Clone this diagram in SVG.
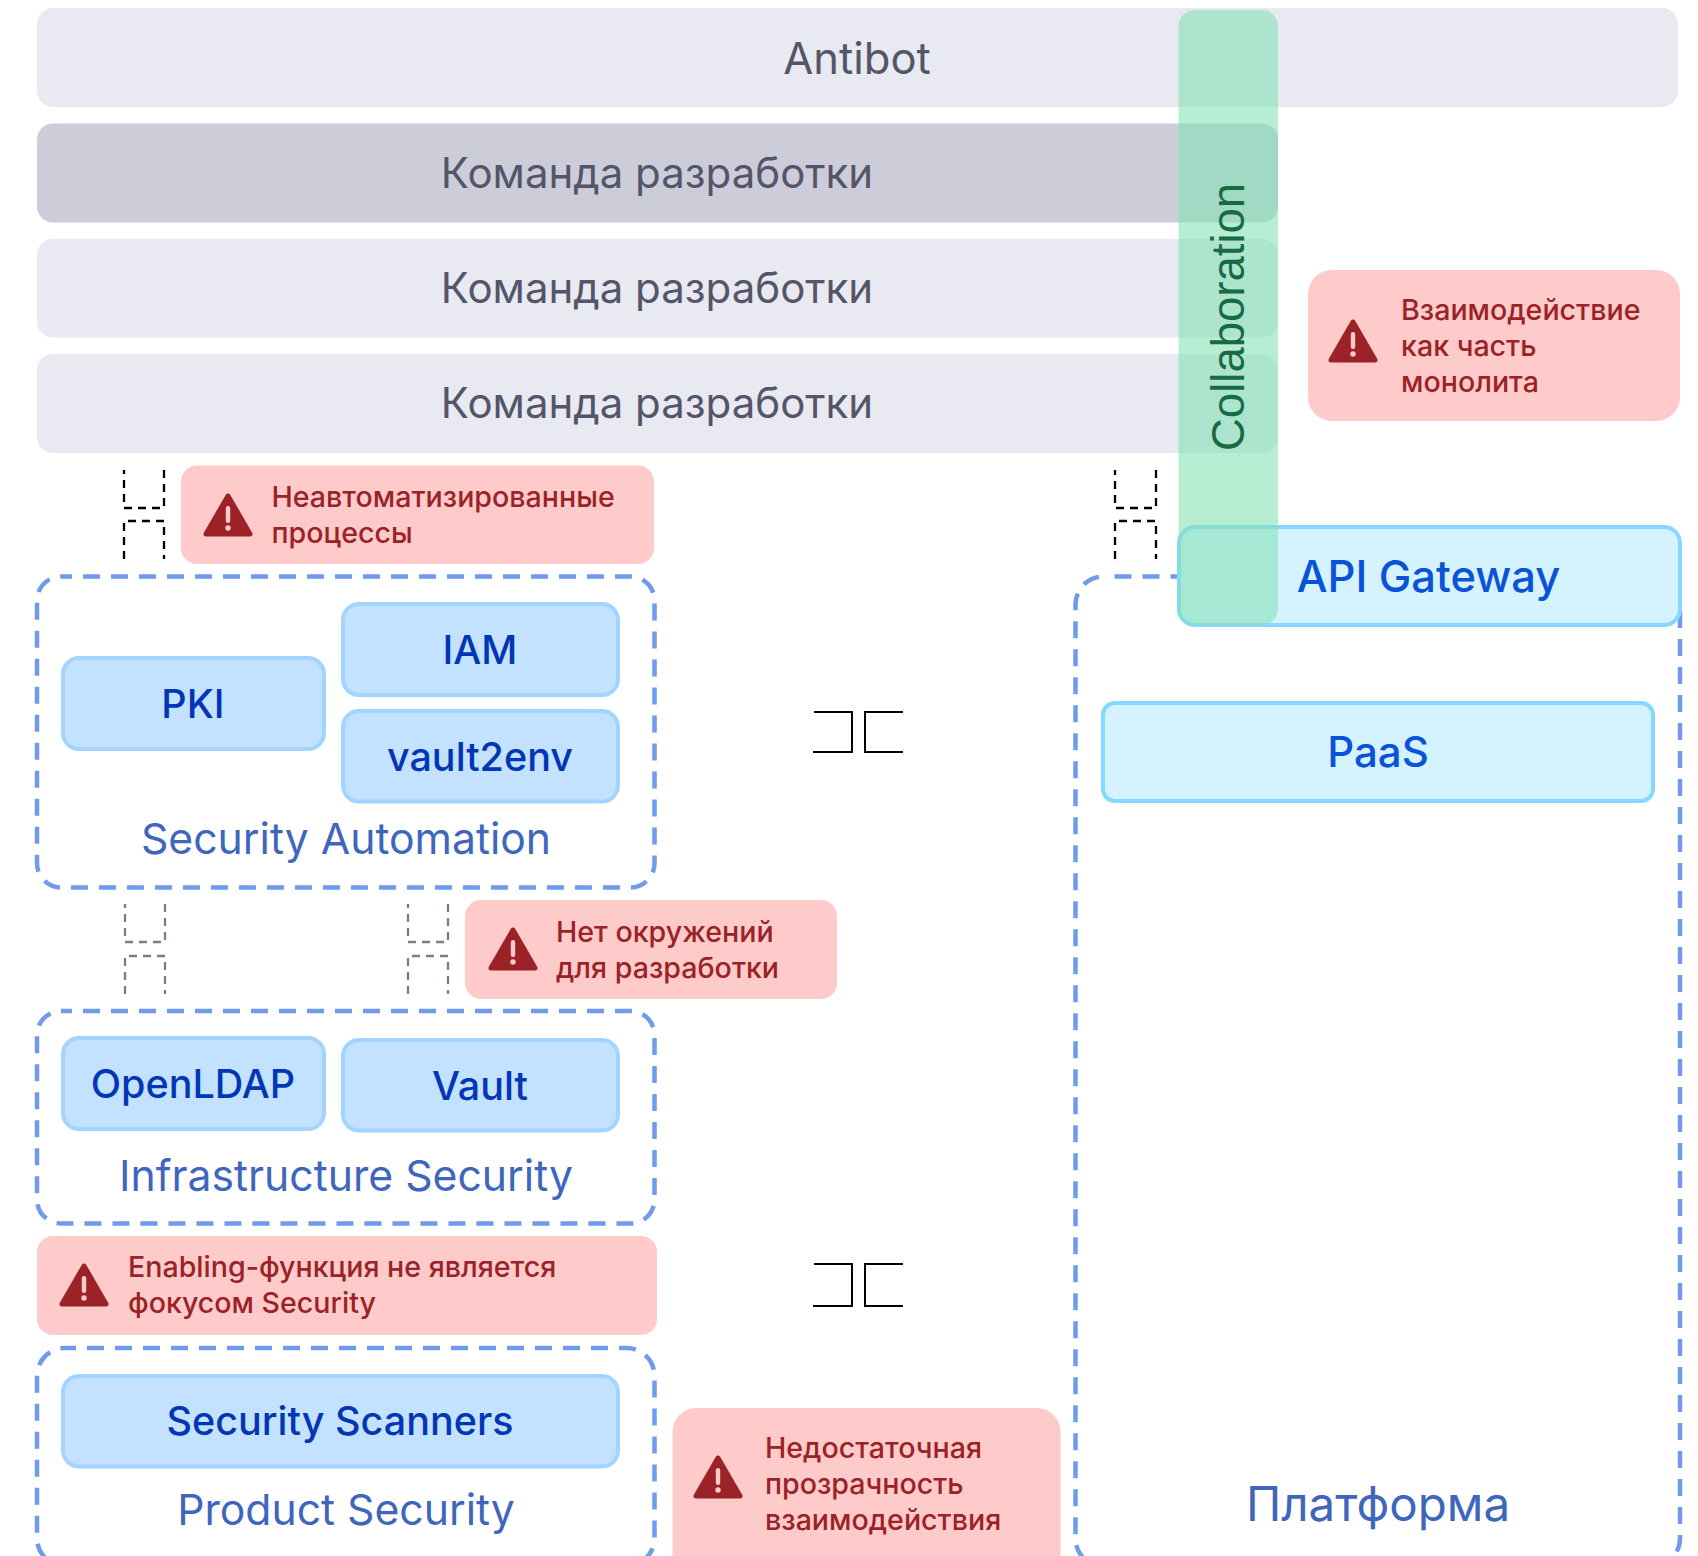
<svg xmlns="http://www.w3.org/2000/svg" width="1698" height="1556" viewBox="0 0 1698 1556">
<style>
text{font-family:Inter,"Noto Sans",sans-serif}
.bar{fill:#e9e9f2}
.bart{font-size:42px;fill:#55556a;text-anchor:middle}
.warn{fill:#ffcaca}
.wt{font-size:28.6px;font-weight:500;fill:#9b2226}
.grp{fill:none;stroke:#709bec;stroke-width:4.5;stroke-dasharray:17 11;stroke-dashoffset:6}
.grpt{font-size:42.7px;fill:#3f66bd;text-anchor:middle}
.n{fill:#c2e2ff;stroke:#a3d4ff;stroke-width:4}
.nt{font-size:39.5px;font-weight:500;fill:#0336b5;text-anchor:middle}
.c{fill:#d5f2ff;stroke:#85d8ff;stroke-width:4}
.ct{font-size:42px;font-weight:500;fill:#0a52d8;text-anchor:middle}
.d{fill:none;stroke:#000;stroke-width:2.3;stroke-dasharray:8 6}
.g{fill:none;stroke:#7c7c90;stroke-width:2.3;stroke-dasharray:8 6}
.s{fill:none;stroke:#000;stroke-width:2}
</style>
<defs>
<g id="ico"><path d="M25 3 L47 41 L3 41 Z" fill="#9b2226" stroke="#9b2226" stroke-width="5" stroke-linejoin="round"/><rect x="22.8" y="13" width="4.4" height="17" rx="2.2" fill="#ffcaca"/><circle cx="25" cy="35" r="2.7" fill="#ffcaca"/></g>
</defs>
<g id="antibot"><rect class="bar" x="37" y="8" width="1641" height="99" rx="16"/><text class="bart" x="857" y="74" style="font-size:43.5px">Antibot</text></g>
<g id="team1"><rect x="37" y="123.5" width="1241" height="99" rx="16" fill="#cdcdda"/><text class="bart" x="657" y="188">Команда разработки</text></g>
<g id="team2"><rect class="bar" x="37" y="239" width="1241" height="98.5" rx="16"/><text class="bart" x="657" y="303">Команда разработки</text></g>
<g id="team3"><rect class="bar" x="37" y="354" width="1241" height="99" rx="16"/><text class="bart" x="657" y="418">Команда разработки</text></g>
<g id="platform"><rect class="grp" x="1075.5" y="576.5" width="604.5" height="990" rx="28" style="stroke-dashoffset:17"/><text class="grpt" x="1378" y="1521" style="font-size:47.5px">Платформа</text></g>
<g id="api-gateway"><rect class="c" x="1179" y="527" width="501" height="98" rx="16"/><text class="ct" x="1428.5" y="592" style="font-size:43.5px">API Gateway</text></g>
<g id="paas"><rect class="c" x="1103" y="703" width="550" height="98" rx="12"/><text class="ct" x="1378" y="767">PaaS</text></g>
<g id="security-automation"><rect class="grp" x="37" y="576.5" width="617.5" height="311" rx="24"/><text class="grpt" x="346" y="854">Security Automation</text></g>
<g id="pki"><rect class="n" x="63" y="658" width="261" height="91" rx="16"/><text class="nt" x="193" y="718">PKI</text></g>
<g id="iam"><rect class="n" x="343" y="604" width="275" height="91" rx="16"/><text class="nt" x="480" y="664">IAM</text></g>
<g id="vault2env"><rect class="n" x="343" y="711" width="275" height="90.5" rx="16"/><text class="nt" x="480" y="771">vault2env</text></g>
<g id="infrastructure-security"><rect class="grp" x="37" y="1011" width="617.5" height="212.5" rx="24"/><text class="grpt" x="346" y="1191">Infrastructure Security</text></g>
<g id="openldap"><rect class="n" x="63" y="1038" width="261" height="91" rx="16"/><text class="nt" x="193" y="1098">OpenLDAP</text></g>
<g id="vault"><rect class="n" x="343" y="1040" width="275" height="90.5" rx="16"/><text class="nt" x="480" y="1100">Vault</text></g>
<g id="product-security"><rect class="grp" x="37" y="1348" width="617.5" height="218" rx="28"/><text class="grpt" x="346" y="1525">Product Security</text></g>
<g id="security-scanners"><rect class="n" x="63" y="1376" width="555" height="90.5" rx="16"/><text class="nt" x="340" y="1435">Security Scanners</text></g>
<g id="collaboration"><rect x="1178.5" y="10" width="99.5" height="615" rx="16" fill="#85e1b5" fill-opacity=".6"/><text transform="translate(1243.5 451) rotate(-90)" font-size="45.5" fill="#166b45" style="font-family:'Liberation Sans',sans-serif">Collaboration</text></g>
<g id="warn-monolith"><rect class="warn" x="1308" y="270" width="372" height="151" rx="24"/><use href="#ico" x="1328" y="319"/><text class="wt"><tspan x="1401" y="320">Взаимодействие</tspan><tspan x="1401" y="356">как часть</tspan><tspan x="1401" y="392">монолита</tspan></text></g>
<g id="warn-automation"><rect class="warn" x="181" y="465.5" width="473" height="98.5" rx="16"/><use href="#ico" x="203" y="493"/><text class="wt"><tspan x="271.5" y="507">Неавтоматизированные</tspan><tspan x="271.5" y="543">процессы</tspan></text></g>
<g id="warn-env"><rect class="warn" x="465" y="900" width="372" height="99" rx="16"/><use href="#ico" x="488" y="927"/><text class="wt"><tspan x="556" y="942">Нет окружений</tspan><tspan x="556" y="978">для разработки</tspan></text></g>
<g id="warn-enabling"><rect class="warn" x="37" y="1236" width="620" height="99" rx="16"/><use href="#ico" x="59" y="1263"/><text class="wt"><tspan x="128" y="1277">Enabling-функция не является</tspan><tspan x="128" y="1313">фокусом Security</tspan></text></g>
<g id="warn-transparency"><rect class="warn" x="672.5" y="1408" width="388" height="170" rx="24"/><use href="#ico" x="693" y="1455"/><text class="wt"><tspan x="765" y="1458">Недостаточная</tspan><tspan x="765" y="1494">прозрачность</tspan><tspan x="765" y="1530">взаимодействия</tspan></text></g>
<g id="connectors">
<path class="d" d="M164 470V508H124V470"/><path class="d" d="M124 559V521H164V559"/>
<path class="d" d="M1156 470V508H1115V470"/><path class="d" d="M1115 559V521H1156V559"/>
<path class="g" d="M165 904V942H125V904"/><path class="g" d="M125 994V956H165V994"/>
<path class="g" d="M448 904V942H408V904"/><path class="g" d="M408 994V956H448V994"/>
<path class="s" d="M814 712H852V752H813"/><path class="s" d="M903 712H865V752H903"/>
<path class="s" d="M814 1264H852V1306H813"/><path class="s" d="M903 1264H865V1306H903"/>
</g>
</svg>
